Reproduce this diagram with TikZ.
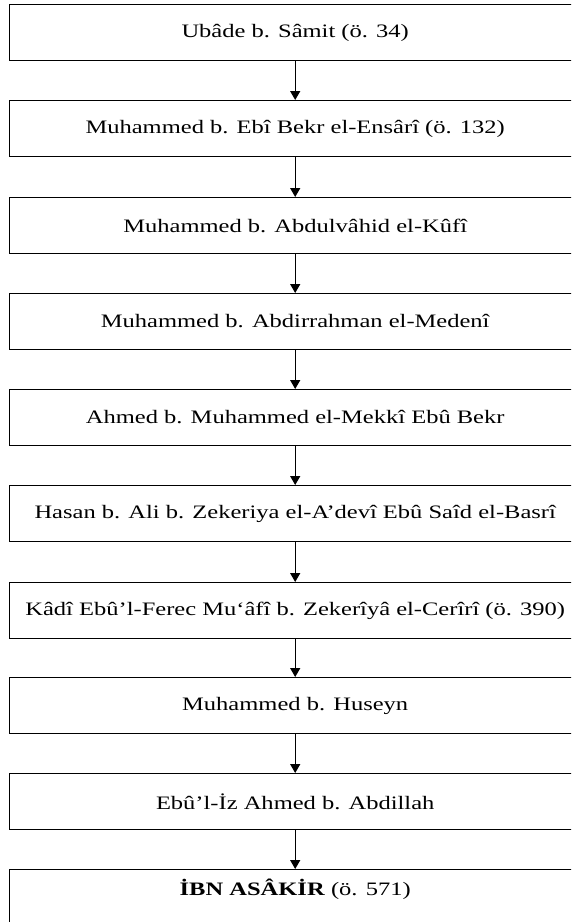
\documentclass[tikz,border=0pt]{standalone}
\usepackage{fontspec}
\setmainfont{Liberation Serif}[FakeStretch=1.29]
\usetikzlibrary{arrows.meta}
\tikzset{
  chainbox/.style={draw=black, line width=1.4pt, rectangle, anchor=north west,
    minimum width=571pt, minimum height=55.5pt, inner sep=0pt,
    font=\fontsize{19}{22}\selectfont},
  chainarrow/.style={draw=black, line width=1.4pt, -{Triangle[width=10pt,length=9pt]}}
}
\begin{document}
\begin{tikzpicture}[x=1pt,y=-1pt]
\useasboundingbox (0,0) rectangle (571,922);
\clip (0,0) rectangle (571,922);
\node[chainbox] (b1) at (9,4) {Ubâde b. Sâmit (ö. 34)};
\node[chainbox] (b2) at (9,100) {Muhammed b. Ebî Bekr el-Ensârî (ö. 132)};
\node[chainbox] (b3) at (9,197) {Muhammed b. Abdulvâhid el-Kûfî};
\node[chainbox] (b4) at (9,293) {Muhammed b. Abdirrahman el-Medenî};
\node[chainbox] (b5) at (9,389) {Ahmed b. Muhammed el-Mekkî Ebû Bekr};
\node[chainbox] (b6) at (9,485) {Hasan b. Ali b. Zekeriya el-A’devî Ebû Saîd el-Basrî};
\node[chainbox] (b7) at (9,582) {Kâdî Ebû’l-Ferec Mu‘âfî b. Zekerîyâ el-Cerîrî (ö. 390)};
\node[chainbox] (b8) at (9,677) {Muhammed b. Huseyn};
\node[chainbox] (b9) at (9,773) {Ebû’l-İz Ahmed b. Abdillah};
\node[chainbox, minimum height=60pt, text depth=24pt] (b10) at (9,869) {\textbf{İBN ASÂKİR} (ö. 571)};
\draw[chainarrow] (b1.south) -- (b2.north);
\draw[chainarrow] (b2.south) -- (b3.north);
\draw[chainarrow] (b3.south) -- (b4.north);
\draw[chainarrow] (b4.south) -- (b5.north);
\draw[chainarrow] (b5.south) -- (b6.north);
\draw[chainarrow] (b6.south) -- (b7.north);
\draw[chainarrow] (b7.south) -- (b8.north);
\draw[chainarrow] (b8.south) -- (b9.north);
\draw[chainarrow] (b9.south) -- (b10.north);
\end{tikzpicture}
\end{document}
